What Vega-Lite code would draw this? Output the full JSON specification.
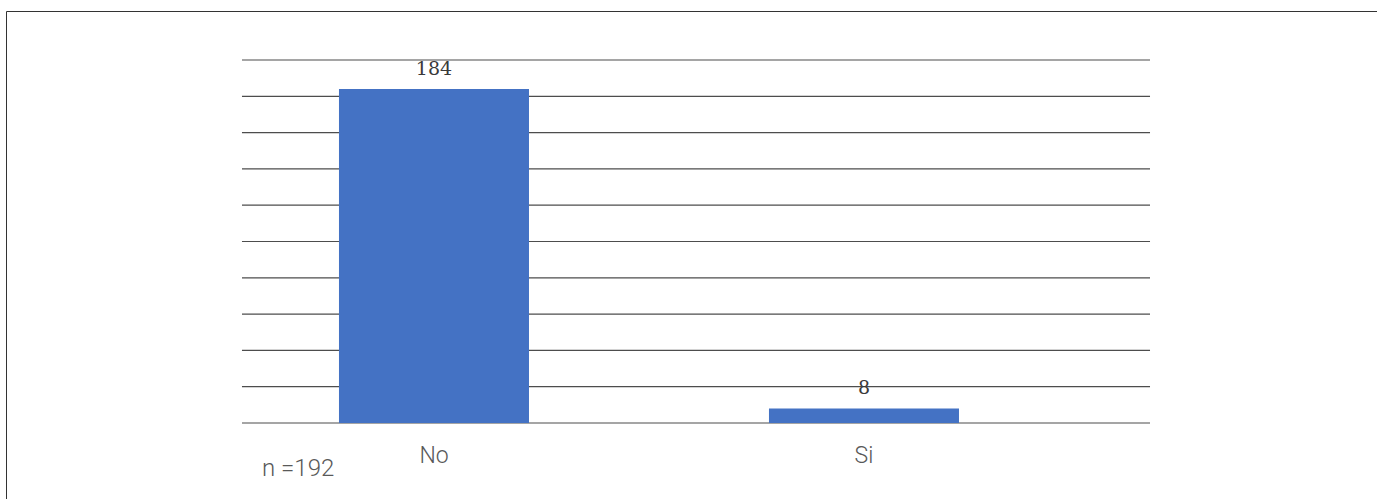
{
  "$schema": "https://vega.github.io/schema/vega-lite/v6.json",
  "width": 1400,
  "height": 500,
  "autosize": {"type": "none"},
  "padding": {"left": 6, "top": 11, "right": 0, "bottom": 0},
  "background": "white",
  "config": {"view": {"stroke": "#333333", "strokeWidth": 1}},
  "datasets": {
    "bars": [{"cat": "No", "n": 184}, {"cat": "Si", "n": 8}],
    "grid": [{"v": 0}, {"v": 20}, {"v": 40}, {"v": 60}, {"v": 80}, {"v": 100}, {"v": 120}, {"v": 140}, {"v": 160}, {"v": 180}, {"v": 200}],
    "note": [{"t": "n  =192"}]
  },
  "layer": [
    {
      "data": {"name": "grid"},
      "mark": {"type": "rule", "stroke": "#4d4d4d", "strokeWidth": 1.2},
      "encoding": {
        "y": {"field": "v", "type": "quantitative", "axis": null,
              "scale": {"domain": [-48.5, 227], "nice": false, "zero": false}},
        "x": {"datum": "No", "type": "nominal", "bandPosition": -0.5105, "axis": null,
              "scale": {"domain": ["No", "Si"], "paddingInner": 0.5581, "paddingOuter": 0.90698, "align": 0.4269}},
        "x2": {"datum": "Si", "bandPosition": 2.0053}
      }
    },
    {
      "data": {"name": "bars"},
      "mark": {"type": "bar", "color": "#4472C4"},
      "encoding": {
        "x": {"field": "cat", "type": "nominal", "axis": null},
        "y": {"field": "n", "type": "quantitative", "axis": null}
      }
    },
    {
      "data": {"name": "bars"},
      "mark": {"type": "text", "font": "DejaVu Serif", "fontSize": 19, "color": "#3a3a3a", "baseline": "alphabetic", "dy": -14},
      "encoding": {
        "x": {"field": "cat", "type": "nominal"},
        "y": {"field": "n", "type": "quantitative"},
        "text": {"field": "n", "type": "quantitative"}
      }
    },
    {
      "data": {"name": "bars"},
      "mark": {"type": "text", "font": "Roboto", "fontWeight": 300, "fontSize": 23, "color": "#595959", "baseline": "alphabetic", "dy": 40},
      "encoding": {
        "x": {"field": "cat", "type": "nominal"},
        "y": {"datum": 0, "type": "quantitative"},
        "text": {"field": "cat", "type": "nominal"}
      }
    },
    {
      "data": {"name": "note"},
      "mark": {"type": "text", "font": "Roboto", "fontWeight": 300, "fontSize": 24, "color": "#595959", "baseline": "alphabetic", "align": "left", "dy": 53},
      "encoding": {
        "x": {"datum": "No", "type": "nominal", "bandPosition": -0.405},
        "y": {"datum": 0, "type": "quantitative"},
        "text": {"field": "t", "type": "nominal"}
      }
    }
  ]
}
